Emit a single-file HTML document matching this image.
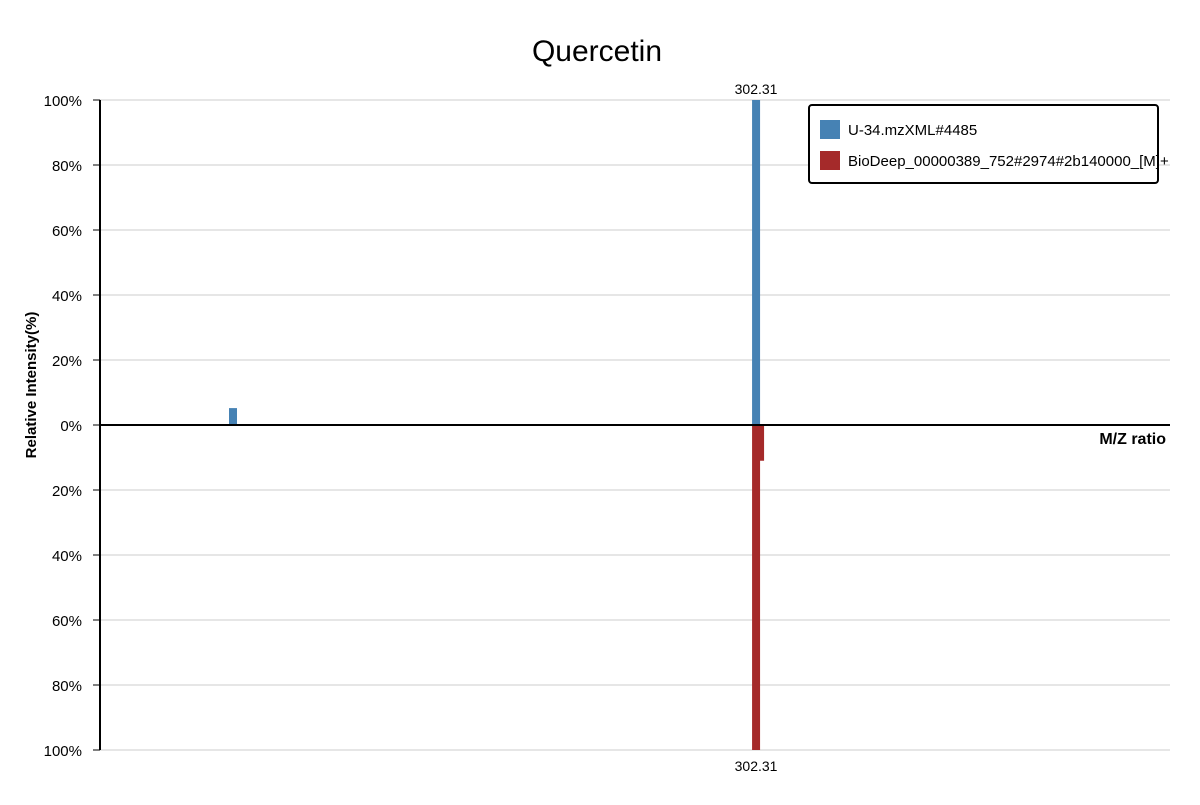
<!DOCTYPE html>
<html><head><meta charset="utf-8"><style>
body{margin:0;background:#fff;font-family:"Liberation Sans","DejaVu Sans",sans-serif}
svg text{font-family:"Liberation Sans","DejaVu Sans",sans-serif}
</style></head><body>
<svg id="chart" width="1200" height="800">
<text x="597" y="61" font-size="30" text-anchor="middle">Quercetin</text>
<g id="grid"></g><g id="bars"></g><g id="axes"></g>
<text transform="translate(36,385) rotate(-90)" font-size="15" font-weight="bold" text-anchor="middle">Relative Intensity(%)</text>
<text x="1166" y="444" font-size="16" font-weight="bold" text-anchor="end">M/Z ratio</text>
<g>
<rect x="809" y="105" width="349" height="78" rx="3" fill="#fff" stroke="#000" stroke-width="2"/>
<rect x="820" y="120" width="20" height="19" fill="#4682b4"/>
<text x="848" y="135" font-size="15">U-34.mzXML#4485</text>
<rect x="820" y="151" width="20" height="19" fill="#a52a2a"/>
<text x="848" y="166" font-size="15">BioDeep_00000389_752#2974#2b140000_[M]+</text>
</g>
</svg>
<script>
const sampleMz=[101.15,302.31];
const sampleInt=[5.2,100];
const refMz=[302.31,303.85];
const refInt=[100,11];
const yTicks=[100,80,60,40,20,0,20,40,60,80,100];
const xLo=50,xHi=461.5;
const NS="http://www.w3.org/2000/svg";
const X0=100,X1=1170,Y0=425,H=325;
const xs=m=>X0+(m-xLo)/(xHi-xLo)*(X1-X0);
const ysUp=v=>Y0-v/100*H, ysDn=v=>Y0+v/100*H;
function mk(t,a,p){const e=document.createElementNS(NS,t);for(const k in a)e.setAttribute(k,a[k]);p.appendChild(e);return e;}
const grid=document.getElementById('grid'),bars=document.getElementById('bars'),axes=document.getElementById('axes');
yTicks.forEach((t,i)=>{
  const y=i<5?ysUp(t):ysDn(t);
  if(i!==5){const l=mk('line',{x1:X0,x2:X1,y1:y,y2:y,stroke:'#ddd','stroke-width':1.5},grid);
  
  }
  mk('line',{x1:X0-7,x2:X0,y1:y,y2:y,stroke:'#000'},axes);
  const tx=mk('text',{x:X0-18,y:y+6,'font-size':15,'text-anchor':'end'},axes);
  tx.textContent=t+'%';
  
  
});
mk('line',{x1:X0,x2:X0,y1:ysUp(100),y2:ysDn(100),stroke:'#000','stroke-width':2},axes);
mk('line',{x1:X0,x2:X1,y1:Y0,y2:Y0,stroke:'#000','stroke-width':2},axes);
sampleMz.forEach((m,i)=>{
  const r=mk('rect',{x:xs(m)-4,y:ysUp(sampleInt[i]),width:8,height:Y0-ysUp(sampleInt[i]),fill:'#4682b4'},bars);
  
  
});
refMz.forEach((m,i)=>{
  const r=mk('rect',{x:xs(m)-4,y:Y0,width:8,height:ysDn(refInt[i])-Y0,fill:'#a52a2a'},bars);
  
  
});
// labels for top peaks
const iMax=sampleInt.indexOf(Math.max(...sampleInt));
const t1=mk('text',{x:xs(sampleMz[iMax]),y:ysUp(sampleInt[iMax])-6,'font-size':14,'text-anchor':'middle'},axes);
t1.textContent=sampleMz[iMax].toFixed(2);


const jMax=refInt.indexOf(Math.max(...refInt));
const t2=mk('text',{x:xs(refMz[jMax]),y:ysDn(refInt[jMax])+21,'font-size':14,'text-anchor':'middle'},axes);
t2.textContent=refMz[jMax].toFixed(2);


</script>
</body></html>
